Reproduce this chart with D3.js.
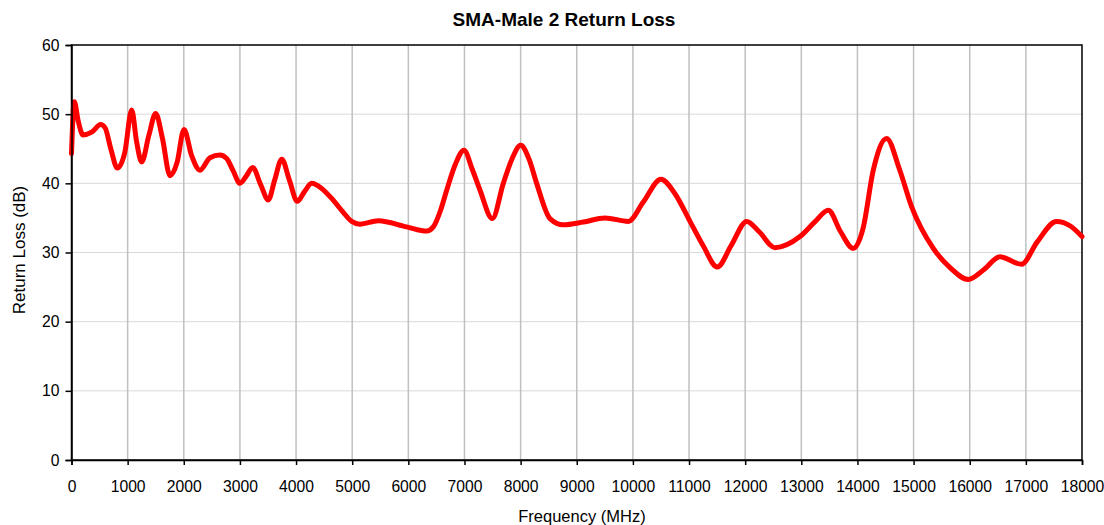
<!DOCTYPE html>
<html>
<head>
<meta charset="utf-8">
<script src="https://cdn.jsdelivr.net/npm/d3@7"></script>
<style>
  body { margin: 0; background: #fff; }
  text { font-family: "Liberation Sans", Arial, sans-serif; }
</style>
</head>
<body>
<div id="chart"></div>
<script>
// frequency (MHz) and return loss (dB)
const freq = [0, 50, 120, 205, 360, 520, 600, 700, 816, 950, 1072, 1160, 1250, 1380, 1500, 1620, 1755, 1880, 2004, 2140,
  2289, 2467, 2645, 2764, 2880, 3001, 3110, 3227, 3370, 3506, 3620, 3744, 3880, 4022, 4150, 4279, 4450, 4658, 4830, 4991,
  5139, 5465, 5971, 6327, 6445, 6570, 6683, 6840, 6991, 7140, 7277, 7496, 7692, 7850, 8001, 8150, 8286, 8523, 8760, 9116,
  9503, 9918, 10185, 10500, 10750, 11017, 11250, 11503, 11750, 12027, 12250, 12531, 12976, 13250, 13481, 13700, 13926, 14100, 14282, 14520,
  14750, 14966, 15351, 15650, 15974, 16250, 16536, 16922, 17200, 17545, 17800, 18000];
const returnLoss = [44.3, 51.8, 49.0, 47.0, 47.4, 48.5, 48.0, 45.0, 42.2, 44.5, 50.6, 46.0, 43.1, 47.0, 50.1, 46.5, 41.1, 43.0, 47.8, 44.0,
  41.9, 43.7, 44.1, 43.6, 41.8, 40.0, 41.0, 42.3, 39.8, 37.6, 40.5, 43.5, 40.5, 37.4, 38.8, 40.0, 39.3, 37.6, 35.9, 34.5,
  34.1, 34.6, 33.7, 33.1, 33.7, 36.0, 39.0, 42.8, 44.8, 42.0, 39.0, 34.9, 40.0, 43.6, 45.5, 43.5, 40.0, 34.9, 34.0, 34.4,
  35.0, 34.5, 37.3, 40.6, 38.5, 34.5, 31.0, 27.9, 31.0, 34.5, 33.0, 30.7, 32.3, 34.5, 36.1, 33.0, 30.6, 33.5, 41.9, 46.5,
  42.0, 36.6, 30.6, 27.8, 26.1, 27.5, 29.4, 28.3, 31.5, 34.5, 33.8, 32.3];

const xTicks = d3.range(0, 18001, 1000);
const yTicks = [0, 10, 20, 30, 40, 50, 60];

const width = 1104, height = 525;
const margin = { top: 45, right: 22, bottom: 65, left: 71.5 };
const innerW = width - margin.left - margin.right;
const innerH = height - margin.top - margin.bottom;

const svg = d3.select('#chart').append('svg')
  .attr('width', width)
  .attr('height', height);

const g = svg.append('g')
  .attr('transform', `translate(${margin.left},${margin.top})`);

const x = d3.scaleLinear().domain([0, 18000]).range([0, innerW]);
const y = d3.scaleLinear().domain([0, 60]).range([innerH, 0]);

// horizontal grid
g.append('g')
  .selectAll('line')
  .data(yTicks.slice(1, -1))
  .enter().append('line')
  .attr('x1', 0).attr('x2', innerW)
  .attr('y1', d => y(d)).attr('y2', d => y(d))
  .attr('stroke', '#d9d9d9')
  .attr('stroke-width', 1);

// vertical grid
g.append('g')
  .selectAll('line')
  .data(xTicks.slice(1, -1))
  .enter().append('line')
  .attr('x1', d => x(d)).attr('x2', d => x(d))
  .attr('y1', 0).attr('y2', innerH)
  .attr('stroke', '#c0c0c0')
  .attr('stroke-width', 1.5);

// frame
g.append('rect')
  .attr('x', 0).attr('y', 0)
  .attr('width', innerW).attr('height', innerH)
  .attr('fill', 'none')
  .attr('stroke', '#000')
  .attr('stroke-width', 1.5);

// data line
const data = freq.map((f, i) => ({ f, v: returnLoss[i] }));
const line = d3.line()
  .x(d => x(d.f))
  .y(d => y(d.v))
  .curve(d3.curveMonotoneX);

g.append('path')
  .datum(data)
  .attr('fill', 'none')
  .attr('stroke', '#ff0000')
  .attr('stroke-width', 5)
  .attr('stroke-linejoin', 'round')
  .attr('stroke-linecap', 'round')
  .attr('d', line);

// axes
const xAxis = g.append('g')
  .attr('transform', `translate(0,${innerH})`)
  .call(d3.axisBottom(x).tickValues(xTicks).tickFormat(d3.format('d')).tickSize(5).tickPadding(16));
const yAxis = g.append('g')
  .call(d3.axisLeft(y).tickValues(yTicks).tickSize(6).tickPadding(6));

[xAxis, yAxis].forEach(a => {
  a.select('.domain').attr('stroke', '#000').attr('stroke-width', 1.5);
  a.selectAll('.tick line').attr('stroke', '#000').attr('stroke-width', 1.5);
  a.selectAll('text')
    .attr('fill', '#000')
    .attr('font-size', '15.7px')
    .style('font-family', '"Liberation Sans", Arial, sans-serif');
});

// title and axis labels
svg.append('text')
  .attr('x', 564)
  .attr('y', 26)
  .attr('text-anchor', 'middle')
  .attr('font-size', '19px')
  .attr('font-weight', 'bold')
  .text('SMA-Male 2 Return Loss');

svg.append('text')
  .attr('x', 582)
  .attr('y', 522)
  .attr('text-anchor', 'middle')
  .attr('font-size', '16.5px')
  .text('Frequency (MHz)');

svg.append('text')
  .attr('transform', `translate(25,250) rotate(-90)`)
  .attr('text-anchor', 'middle')
  .attr('font-size', '17px')
  .text('Return Loss (dB)');
</script>
</body>
</html>
